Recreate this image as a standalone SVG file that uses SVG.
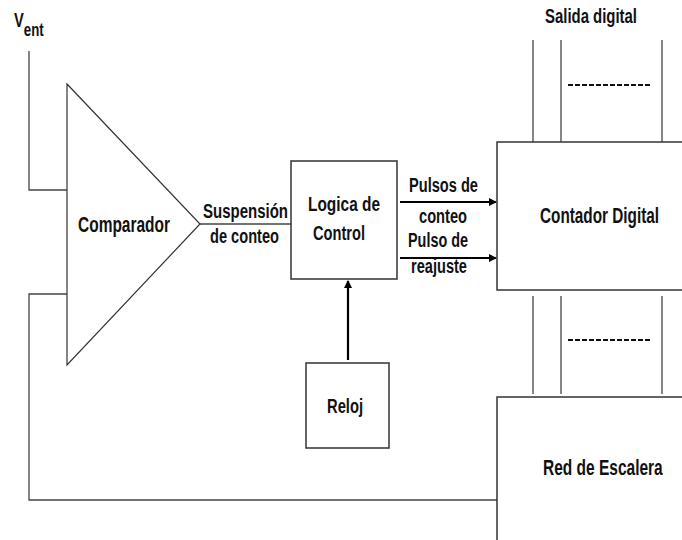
<svg xmlns="http://www.w3.org/2000/svg" width="682" height="540" viewBox="0 0 682 540">
<defs>
<marker id="ah" markerWidth="8" markerHeight="8" refX="7" refY="4" orient="auto" markerUnits="userSpaceOnUse">
<path d="M0,0 L8,4 L0,8 Z" fill="#000"/>
</marker>
<style>
.t{font-family:"Liberation Sans",Arial,sans-serif;font-weight:bold;fill:#111;}
.b{fill:#fff;stroke:#333;stroke-width:1.5;}
.w{fill:none;stroke:#444;stroke-width:1.3;}
.a{fill:none;stroke:#000;stroke-width:2.2;}
.d{fill:none;stroke:#111;stroke-width:2;stroke-dasharray:5,2;}
</style>
</defs>
<rect width="682" height="540" fill="#fff"/>
<g id="connectors">
<polyline class="w" points="29,51 29,190 67,190"/>
<polyline class="w" points="67,294 29,294 29,500 497,500"/>
<line class="w" x1="200" y1="224" x2="291" y2="224"/>
<line class="a" x1="400" y1="202" x2="496" y2="202" marker-end="url(#ah)"/>
<line class="a" x1="400" y1="258" x2="496" y2="258" marker-end="url(#ah)"/>
<line class="a" x1="348" y1="360" x2="348" y2="281" marker-end="url(#ah)"/>
<line class="w" x1="533" y1="40" x2="533" y2="142"/>
<line class="w" x1="561" y1="40" x2="561" y2="142"/>
<line class="w" x1="662" y1="40" x2="662" y2="142"/>
<line class="d" x1="568" y1="85" x2="652" y2="85"/>
<line class="w" x1="533" y1="296" x2="533" y2="394"/>
<line class="w" x1="561" y1="296" x2="561" y2="394"/>
<line class="w" x1="662" y1="296" x2="662" y2="394"/>
<line class="d" x1="568" y1="340" x2="652" y2="340"/>
</g>
<g id="vent">
<text class="t" font-size="21" transform="translate(14,27) scale(0.7,1)">V<tspan font-size="19" dy="9">ent</tspan></text>
</g>
<g id="salida">
<text class="t" x="545" y="23" font-size="20" textLength="92" lengthAdjust="spacingAndGlyphs">Salida digital</text>
</g>
<g id="comparador">
<polygon class="b" points="67,84 200,224 67,365" style="stroke-width:1.2"/>
<text class="t" x="78" y="232" font-size="22" textLength="92" lengthAdjust="spacingAndGlyphs">Comparador</text>
</g>
<g id="suspension">
<text class="t" x="203" y="218" font-size="20" textLength="85" lengthAdjust="spacingAndGlyphs">Suspensión</text>
<text class="t" x="210" y="243" font-size="20" textLength="69" lengthAdjust="spacingAndGlyphs">de conteo</text>
</g>
<g id="logica">
<rect class="b" x="291" y="161" width="106" height="118"/>
<text class="t" x="308" y="211" font-size="20" textLength="72" lengthAdjust="spacingAndGlyphs">Logica de</text>
<text class="t" x="313" y="240" font-size="20" textLength="52" lengthAdjust="spacingAndGlyphs">Control</text>
</g>
<g id="labels">
<text class="t" x="409" y="192" font-size="20" textLength="69" lengthAdjust="spacingAndGlyphs">Pulsos de</text>
<text class="t" x="419" y="223" font-size="20" textLength="48" lengthAdjust="spacingAndGlyphs">conteo</text>
<text class="t" x="408" y="247" font-size="20" textLength="60" lengthAdjust="spacingAndGlyphs">Pulso de</text>
<text class="t" x="411" y="273" font-size="20" textLength="56" lengthAdjust="spacingAndGlyphs">reajuste</text>
</g>
<g id="contador">
<path class="b" d="M682,142 H497 V290 H682"/>
<text class="t" font-size="22" transform="translate(540,223) scale(0.7,1)" textLength="170" lengthAdjust="spacingAndGlyphs">Contador Digital</text>
</g>
<g id="reloj">
<rect class="b" x="306" y="363" width="83" height="85"/>
<text class="t" x="327" y="413" font-size="21" textLength="36" lengthAdjust="spacingAndGlyphs">Reloj</text>
</g>
<g id="red">
<path class="b" d="M682,397 H497 V540"/>
<text class="t" font-size="22" transform="translate(543,475) scale(0.7,1)" textLength="171" lengthAdjust="spacingAndGlyphs">Red de Escalera</text>
</g>
</svg>
